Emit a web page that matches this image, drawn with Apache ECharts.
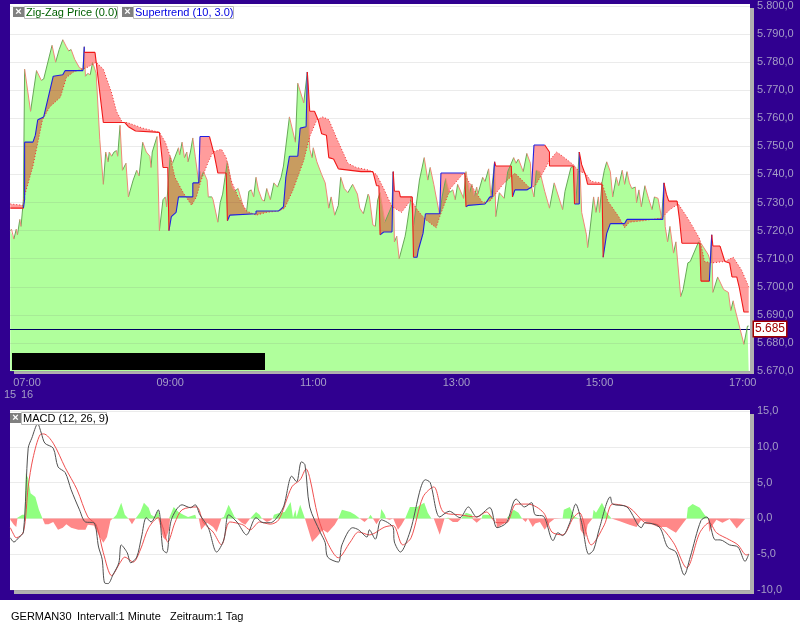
<!DOCTYPE html>
<html>
<head>
<meta charset="utf-8">
<title>GERMAN30</title>
<script src="https://cdn.jsdelivr.net/npm/echarts@6/dist/echarts.min.js"></script>
<style>
html,body{margin:0;padding:0;background:#300090;}
#chart{width:800px;height:625px;}
</style>
</head>
<body>
<div id="chart"></div>
<script>
//minutes after 07:00
var timeTicks = [0,120,240,360,480,600];
var timeLabels = ['07:00','09:00','11:00','13:00','15:00','17:00'];
var lastPrice = 5685;

var priceMin = [-14,-13,-11,-9,-8,-6,-5,-3,-2,3,8,12,14,21,24,27,30,33,35,37,40,44,47,48,49,51,53,55,58,61,64,66,68,69,71,73,75,76,78,80,83,85,89,92,94,97,100,103,104,105,109,111,114,116,117,120,122,127,128,130,132,134,135,137,139,141,144,145,146,148,151,152,155,156,160,162,164,166,168,170,172,174,177,179,181,184,186,188,190,192,194,197,199,201,204,207,210,213,215,220,225,227,232,235,237,239,240,243,247,250,253,255,258,261,263,266,269,271,273,277,279,282,286,287,290,292,294,296,300,306,307,308,310,312,317,318,322,324,329,333,336,338,341,343,346,348,351,354,357,359,361,366,368,371,373,375,377,378,382,384,387,389,392,393,396,400,403,408,410,412,416,419,422,423,425,427,430,434,438,442,449,451,456,459,460,463,465,469,470,472,475,477,479,480,482,484,486,489,491,494,496,499,501,503,505,507,510,511,513,515,518,521,524,526,529,532,534,535,537,539,542,544,548,550,554,556,563,565,571,573,574,575,579,584,588,590,592,593,601,604,605];
var priceVal = [5720,5720.5,5717,5720.5,5718.5,5724,5721.5,5731,5777.5,5762.5,5777,5773.5,5774,5786,5780,5784.5,5788,5785.5,5784,5784.5,5781,5778,5777.5,5785.5,5775,5776,5775.5,5780,5776,5752.5,5736.5,5748,5744.5,5748,5746.5,5748,5748.5,5746.5,5757.5,5741.5,5744,5732,5738,5741.5,5739.5,5751.5,5748,5746.5,5742.5,5748,5753.5,5720,5731,5732,5728.5,5746.5,5744,5749.5,5747,5751.5,5746,5748,5744.5,5748,5753,5746.5,5737,5741,5739,5741,5738,5732,5732,5731,5723,5730,5733,5739,5744.5,5740,5735.5,5734,5735,5732,5729,5726.5,5734,5734.5,5732,5739,5734.5,5731,5730.5,5735,5731,5737,5735.5,5739,5743,5760.5,5751.5,5772.5,5765.5,5776.5,5749,5746,5749.5,5744.5,5740,5737,5728,5732,5725.5,5729,5739,5735,5733.5,5735,5736.5,5733,5728,5726,5733,5732,5722,5721.5,5731,5733.5,5723,5729,5741,5716,5718,5710,5718,5720.5,5732,5721.5,5738,5746,5738,5742.5,5736.5,5732,5725.5,5732,5738.5,5733.5,5734.5,5731,5736.5,5731.5,5741,5733.5,5736.5,5732,5735.5,5733,5739,5737.5,5742,5732,5744.5,5725,5733.5,5731.5,5741,5746,5744,5745.5,5741,5747.5,5744,5735.5,5732,5741.5,5741,5734,5728,5737,5727.5,5734,5742.5,5743,5729.5,5748,5726.5,5718.5,5714,5720.5,5732,5726.5,5732,5726.5,5737,5741.5,5744.5,5741,5732,5739,5736,5741.5,5736.5,5741,5737,5735,5735.5,5730,5734.5,5728.5,5736,5731.5,5727.5,5732,5731.5,5724.5,5737,5721.5,5716,5721.5,5712,5716,5696.5,5699,5708.5,5709,5716,5715.5,5711.5,5709,5718.5,5698,5703.5,5699,5698,5691.5,5695,5693,5679.5,5686,5686];

//supertrend, blue inside trendUpRanges, red elsewhere
var trendMin = [-14,-3,-2,-2,5,7,9,14,22,30,32,47,48,48,57,58,64,82,85,91,111,114,118,119,121,125,127,139,139,144,145,153,157,160,167,168,170,192,192,211,215,217,220,227,229,234,235,236,237,241,244,247,251,253,257,261,280,290,293,295,296,299,306,307,308,312,313,323,324,327,328,332,334,346,347,367,368,370,384,388,390,392,393,406,407,409,419,423,425,434,438,438,458,459,463,463,465,468,470,482,483,486,489,501,503,533,534,536,538,545,547,549,564,565,572,574,575,581,585,589,591,595,597,601,605];
var trendVal = [5728,5728,5731,5751.5,5751.5,5754,5759.5,5760.5,5775,5775.5,5777,5777,5785.5,5783.5,5783.5,5780,5758.5,5758.5,5757,5755.5,5755,5742.5,5742.5,5720,5725,5726.5,5732,5732,5737,5737,5753.5,5753.5,5747,5740.5,5740.5,5723.5,5725.5,5726,5727,5727,5728.5,5739,5746.5,5746.5,5756.5,5757,5776.5,5770,5762.5,5762.5,5759.5,5754.5,5754,5746,5745.5,5742,5741,5741,5736,5736,5718.5,5719.5,5719.5,5741,5734,5734,5732,5732,5710.5,5710.5,5713,5719,5726,5726,5740.5,5740.5,5728.5,5729,5729.5,5732,5732,5744.5,5743,5743,5732,5734.5,5734.5,5735.5,5750.5,5750.5,5748,5743,5743,5729.5,5729.5,5748,5743.5,5740,5736.5,5736.5,5710.5,5719,5722.5,5722.5,5724,5724,5737,5733,5730.5,5730.5,5724,5715.5,5715.5,5702,5702,5718.5,5714.5,5714.5,5709,5708.5,5703.5,5703.5,5700,5691,5691];
var trendUpRanges = [[-3,48],[119,153],[168,235],[296,307],[324,367],[368,392],[407,434],[459,463],[483,534],[572,574]];

//dotted line of the band
var dotMin = [-14,-3,-3,5,13,19,28,33,39,46,50,54,58,64,71,75,80,84,97,111,116,120,124,131,138,142,146,152,156,163,167,171,177,184,192,201,211,216,223,232,237,243,248,253,260,269,276,287,293,299,306,314,322,327,334,343,346,355,366,371,382,388,399,409,422,426,433,438,444,449,458,463,468,473,482,487,496,501,505,516,532,539,546,553,558,564,568,574,585,592,599,605];
var dotVal = [5729.5,5729,5731,5743,5759.5,5764,5767.5,5774.5,5776.5,5777.5,5778,5779,5780,5777.5,5769,5762.5,5758.5,5758.5,5756.5,5755,5751.5,5746.5,5739,5733.5,5729,5732,5738,5744.5,5748,5749,5746,5738,5732,5727,5725.5,5726.5,5727,5728,5734.5,5745,5753.5,5759.5,5760.5,5759.5,5752.5,5744,5742.5,5741.5,5740,5735,5728.5,5726.5,5731,5727.5,5724,5721,5725,5735,5740.5,5737,5730,5730.5,5736.5,5740.5,5735,5736,5741,5745,5748,5746.5,5743.5,5741,5740.5,5737.5,5737,5730.5,5725,5721,5723,5723.5,5724.5,5727.5,5729.5,5725,5721.5,5717,5709,5708.5,5709,5710.5,5706,5700];

var macdMin = [-14,-11,-7,-3,1,4,9,12,15,22,26,32,37,44,49,56,60,63,65,68,72,77,79,84,87,92,96,100,104,110,114,117,121,130,137,141,145,152,159,165,169,176,184,192,198,204,208,215,222,226,230,233,237,246,250,252,261,264,273,278,285,287,292,297,307,308,313,321,334,338,346,354,363,370,377,388,394,402,410,417,423,426,433,441,445,449,455,460,465,471,475,480,489,491,503,515,518,530,537,544,551,556,565,570,577,581,589,596,602,605];
var macdVal = [-2.7,-3.3,-2.7,-1.9,9.8,11.2,13.2,11.9,10.5,9.8,7.2,6.4,4,1.2,-0.5,-0.6,-4,-5.7,-9,-9.1,-7.9,-6.2,-3.7,-4.8,-6.2,-5.4,-2.6,0.1,-0.5,1.2,-4.4,-4.8,-0.2,1.9,1.5,1.9,0.5,-1.3,-4.7,-3,0.5,-0.5,-2.3,0.1,-0.6,-0.6,-0.2,1.6,5.9,5.1,7.9,7.5,1.6,-2,-3.4,-5.4,-6.1,-3.7,-1.3,-1.6,-2.6,-1.6,-2.9,-0.2,-1.3,-3.3,-4.7,-1.9,5.4,5,0.2,1,0.1,1.6,0.2,1.5,-1.3,-0.6,2.7,1.6,2.2,0.5,0.3,-3.1,-2,-2.4,-0.6,2,-0.6,-5,-4.4,-1.3,3,2,1.6,-1.3,-0.6,-1.2,-4,-4.7,-7.9,-5.4,-0.3,0.2,-3,-3,-3.7,-4,-6,-5];

var signalMin = [-14,-10,-9,-3,1,5,11,14,22,32,42,51,58,64,71,78,82,89,95,102,110,114,118,124,130,142,148,156,163,170,181,187,195,204,211,222,229,234,237,244,252,261,271,278,287,300,307,315,322,332,341,349,363,377,385,394,402,410,420,433,440,449,458,463,473,484,491,505,518,529,542,553,564,572,578,589,596,603,605];
var signalVal = [-1.3,-2.6,-2.7,-1.9,4.4,8.4,11.7,11.8,10.5,7.1,4,0.2,-0.9,-4.8,-8,-6.2,-5.4,-6.1,-4.4,-1.3,0.1,-1.3,-3.3,-0.6,1.2,1.6,-0.6,-1.9,-3.7,-0.5,-0.9,-1.6,-0.5,-0.8,-0.2,4.4,5.4,6.9,5.7,0.2,-3.4,-5.5,-3.3,-1.9,-2.3,-1.2,-1,-3.7,-2.7,3,4.4,0.9,0.5,0.2,0.9,-0.6,-0.6,2,2,0.8,-1.9,-2.3,0.1,0.8,-3.7,-0.9,2,1.5,-0.6,-0.9,-3.4,-6.9,-2,-0.6,-2,-3,-3.7,-5.1,-5];

var histMin = [-14,-11,-9,-8,-4,-2,-1,1,3,7,10,13,15,18,22,26,30,33,37,43,49,51,56,61,64,67,70,72,75,79,82,85,88,91,95,98,102,104,107,110,111,114,116,119,120,123,127,131,135,141,142,144,146,151,156,159,162,163,165,169,172,174,176,180,183,187,192,195,197,201,204,206,207,212,216,221,223,225,226,229,233,234,239,243,248,252,258,261,264,271,275,279,283,286,288,290,293,296,297,300,301,304,307,311,314,317,321,327,333,336,339,341,346,350,353,357,361,364,365,368,373,374,377,381,382,388,391,393,394,402,403,408,412,415,418,420,424,426,430,434,438,442,449,450,455,459,463,464,468,470,474,475,477,482,486,490,491,497,505,511,515,518,529,536,544,549,553,554,558,564,568,571,572,575,578,583,589,595,602,605];
var histVal = [-0.2,-0.9,-1.2,0,0.5,0.5,6.3,5.6,3.5,3,1.2,0,-0.8,-0.8,-0.5,-1.6,-1.3,-0.8,-1.3,-1.6,-1.6,-0.9,-1,-2.6,-3.4,-2.6,-0.3,0,0.5,2.2,0.5,0,-0.8,0,0.9,2.2,1.5,0.5,0.2,1.2,0,-2.6,-3,-1.6,0,1.6,0.9,0.5,0.2,0.5,0,0,-1.6,-0.6,-1.2,-1.9,-0.5,0,0.2,1.9,0.9,0.2,0,-0.6,-0.9,0,0.9,0.5,0,-0.5,-0.3,0,0.5,0.8,0.9,2.3,0.1,1.2,0.2,1.9,0,0,-3.3,-2.6,-1.6,-2,-0.9,0,1.2,0.9,0.5,0,-0.5,0,0.5,0,-0.8,0,1.3,0.5,0,-0.2,0,-1.6,-0.9,0,1.6,1.6,2.2,0.8,0,0,-2.3,0,0.1,-0.5,-0.5,0,0.2,0.8,0.5,0,-0.6,0,0.5,0.5,0,0,-1.3,-0.5,0,1.2,0.8,0,-0.5,0,-1.2,-0.7,-0.5,-1.6,-0.6,-0.1,0,1.2,1.6,0.2,0,-1.6,-2.6,-0.9,0,1.2,0.8,2.2,0.8,0,-0.2,-0.4,-0.9,-1.2,-0.2,-0.4,-1.2,-1.2,-2,-0.9,0,1.5,2,1.5,0.5,0,-1.9,-0.9,-0.2,-0.6,-0.1,-1.4,-0.1];

var axisColor = '#a59dc6';

function pairs(xs,ys){
	var out = [];
	for(var i = 0;i<xs.length;i++){
		out.push([xs[i],ys[i]]);
	}
	return out;
}
//only the segments that pass the test, broken by empty points
function segments(xs,ys,test){
	var out = [];
	for(var i = 1;i<xs.length;i++){
		if(test(xs[i-1],ys[i-1],xs[i],ys[i])){
			out.push([xs[i-1],ys[i-1]],[xs[i],ys[i]],[xs[i],null]);
		}
	}
	return out;
}
function inUpTrend(x0,y0,x1){
	for(var i = 0;i<trendUpRanges.length;i++){
		if(x0>=trendUpRanges[i][0] && x1<=trendUpRanges[i][1]) return true;
	}
	return false;
}
function priceFormat(v){
	var s = v.toFixed(1).replace('.',',');
	if(Math.abs(v)>=1000) s = s.replace(/^(\d)(\d{3})/,'$1.$2');
	return s;
}
function lineSeries(data,color,width,z,type){
	return {
		type:'line',
		data:data,
		symbol:'none',
		z:z,
		silent:true,
		animation:false,
		lineStyle:{color:color,width:width,type:type||'solid'}
	};
}
function bandSeries(color,blend){
	return {
		type:'custom',
		coordinateSystem:'cartesian2d',
		data:[[trendMin[0],trendVal[0]]],
		encode:{x:0,y:1},
		z:3,
		silent:true,
		animation:false,
		blendMode:blend,
		renderItem:function(params,api){
			var pts = [];
			for(var i = 0;i<trendMin.length;i++){
				pts.push(api.coord([trendMin[i],trendVal[i]]));
			}
			for(var j = dotMin.length-1;j>=0;j--){
				pts.push(api.coord([dotMin[j],dotVal[j]]));
			}
			return {type:'polygon',shape:{points:pts},style:{fill:color}};
		}
	};
}
function tag(x,y,w,label,color){
	return [
		{type:'rect',shape:{x:x,y:y+1,width:11,height:10},style:{fill:'#808080'},z:20},
		{type:'text',x:x+5.5,y:y+6,style:{text:'\u00d7',fill:'#fff',font:'bold 11px "Liberation Sans"',textAlign:'center',textVerticalAlign:'middle'},z:21},
		{type:'rect',shape:{x:x+11.5,y:y+0.5,width:w,height:12},style:{fill:'#fff',stroke:'#b8b8b8',lineWidth:1},z:20},
		{type:'text',x:x+13,y:y+6.5,style:{text:label,fill:color,font:'11px "Liberation Sans"',textVerticalAlign:'middle'},z:21}
	];
}

var areaSeries = lineSeries(pairs(priceMin,priceVal),'#b0ff9c',0,1);
areaSeries.areaStyle = {color:'#b0ff9c',origin:'start',opacity:1};

var priceUp = lineSeries(segments(priceMin,priceVal,function(a,b,c,d){return d>=b;}),'#68a858',1,5);
priceUp.markLine = {
	silent:true,
	symbol:'none',
	animation:false,
	lineStyle:{color:'#000060',width:1,type:'solid'},
	label:{
		position:'end',
		distance:4,
		formatter:function(){return String(lastPrice).replace(/^(\d)(\d{3})/,'$1.$2');},
		color:'#a00000',
		fontFamily:'Liberation Sans',
		fontSize:12,
		backgroundColor:'#fff',
		borderColor:'#a00000',
		borderWidth:1.5,
		padding:[1,1]
	},
	data:[{yAxis:lastPrice}]
};
var priceDown = lineSeries(segments(priceMin,priceVal,function(a,b,c,d){return d<b;}),'#f08878',1,5);

var histUp = lineSeries(pairs(histMin,histVal.map(function(v){return v>0?v:0;})),'#90ff80',0,2);
histUp.areaStyle = {color:'#90ff80',opacity:1};
var histDown = lineSeries(pairs(histMin,histVal.map(function(v){return v<0?v:0;})),'#ff8888',0,2);
histDown.areaStyle = {color:'#ff8888',opacity:1};

var signalLine = lineSeries(pairs(signalMin,signalVal),'#f05050',1,4);
signalLine.smooth = 0.3;
var macdLine = lineSeries(pairs(macdMin,macdVal),'#505050',1,5);
macdLine.smooth = 0.3;

var series = [
	areaSeries,
	bandSeries('#ff9c9c','multiply'),
	bandSeries('#180000','lighter'),
	priceUp,
	priceDown,
	lineSeries(pairs(dotMin,dotVal),'#f03030',1,6,[1,2]),
	lineSeries(segments(trendMin,trendVal,inUpTrend),'#2020e0',1.1,7),
	lineSeries(segments(trendMin,trendVal,function(a,b,c){return !inUpTrend(a,b,c);}),'#f01818',1.1,7),
	histUp,
	histDown,
	signalLine,
	macdLine
];
for(var s = 8;s<series.length;s++){
	series[s].xAxisIndex = 1;
	series[s].yAxisIndex = 1;
}

function yAxisOption(gridIndex,min,max,interval){
	return {
		type:'value',
		gridIndex:gridIndex,
		position:'right',
		min:min,
		max:max,
		interval:interval,
		z:2,
		axisLine:{show:false},
		axisTick:{show:false},
		axisLabel:{color:axisColor,fontFamily:'Liberation Sans',fontSize:11,margin:7,formatter:priceFormat},
		splitLine:{show:true,lineStyle:{color:'rgba(120,120,120,0.15)',width:1}}
	};
}

var graphicEls = [
	{type:'rect',shape:{x:14,y:8,width:740,height:366},style:{fill:'#b0b0b0'},z:-3},
	{type:'rect',shape:{x:10,y:4,width:740,height:367},style:{fill:'#fff'},z:-2},
	{type:'rect',shape:{x:14,y:414,width:740,height:180},style:{fill:'#b0b0b0'},z:-3},
	{type:'rect',shape:{x:10,y:410,width:740,height:180},style:{fill:'#fff'},z:-2},
	{type:'rect',shape:{x:0,y:600,width:800,height:25},style:{fill:'#fff'},z:-2},
	{type:'rect',shape:{x:12,y:353,width:253,height:17},style:{fill:'#000'},z:20},
	{type:'text',x:4,y:395,style:{text:'15',fill:axisColor,font:'11px "Liberation Sans"',textVerticalAlign:'middle'},z:20},
	{type:'text',x:21,y:395,style:{text:'16',fill:axisColor,font:'11px "Liberation Sans"',textVerticalAlign:'middle'},z:20},
	{type:'text',x:11,y:617,style:{text:'GERMAN30',fill:'#000',font:'11px "Liberation Sans"',textVerticalAlign:'middle'},z:20},
	{type:'text',x:77,y:617,style:{text:'Intervall:1 Minute',fill:'#000',font:'11px "Liberation Sans"',textVerticalAlign:'middle'},z:20},
	{type:'text',x:170,y:617,style:{text:'Zeitraum:1 Tag',fill:'#000',font:'11px "Liberation Sans"',textVerticalAlign:'middle'},z:20}
].concat(
	tag(13,6,93,'Zig-Zag Price (0.0)','#006000'),
	tag(122,6,100,'Supertrend (10, 3.0)','#0000e0'),
	tag(10,412,85,'MACD (12, 26, 9)','#000')
);

var myChart = echarts.init(document.getElementById('chart'),null,{renderer:'canvas'});
var option = {
	backgroundColor:'#300090',
	animation:false,
	grid:[
		{left:10,top:6,width:740,height:365},
		{left:10,top:411,width:740,height:179}
	],
	xAxis:[
		{
			type:'value',
			gridIndex:0,
			min:-14.25,
			max:606.1,
			axisLine:{show:false},
			axisTick:{show:false},
			splitLine:{show:false},
			axisLabel:{
				color:axisColor,
				fontFamily:'Liberation Sans',
				fontSize:11,
				margin:6,
				customValues:timeTicks,
				formatter:function(v){return timeLabels[timeTicks.indexOf(v)];}
			}
		},
		{type:'value',gridIndex:1,min:-14.25,max:606.1,show:false}
	],
	yAxis:[
		yAxisOption(0,5670,5800,10),
		yAxisOption(1,-10,15,5)
	],
	graphic:{elements:graphicEls},
	series:series
};
myChart.setOption(option);
</script>
</body>
</html>
